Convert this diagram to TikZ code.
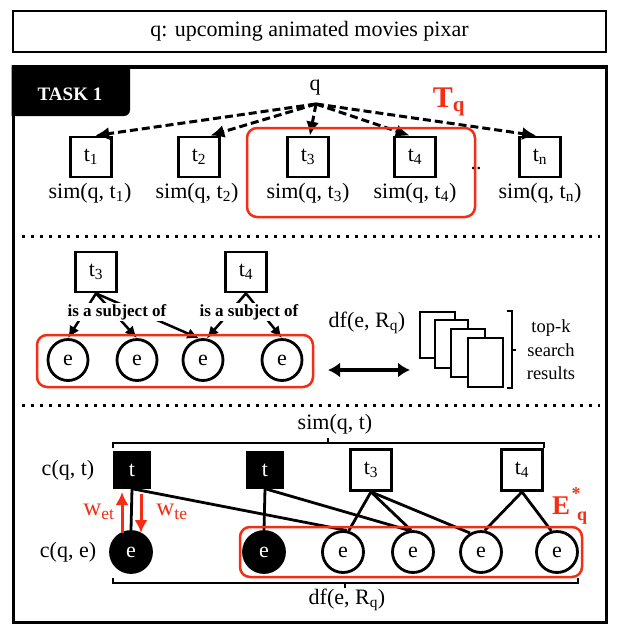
\documentclass[tikz,border=0pt]{standalone}
\usepackage{fontspec}
\setmainfont{Liberation Serif}
\usetikzlibrary{arrows.meta,shapes.geometric}
\definecolor{tred}{RGB}{245,45,20}
\begin{document}
\begin{tikzpicture}[x=1pt,y=-1pt,
  font=\fontsize{22}{26}\selectfont,
  sq/.style={draw,line width=2.8pt,minimum width=41pt,minimum height=40pt,inner sep=0pt},
  bsq/.style={draw,fill=black,text=white,minimum width=37pt,minimum height=37pt,inner sep=0pt},
  ent/.style={draw,ellipse,line width=2.8pt,minimum width=41pt,minimum height=41pt,inner sep=0pt},
  bent/.style={ent,fill=black,text=white},
  redbox/.style={draw=tred,line width=2.5pt,rounded corners=10pt},
  dasharr/.style={line width=3pt,dash pattern=on 8pt off 4pt,-{Latex[length=14pt,width=13pt]}},
  sarr/.style={line width=2.5pt,-{Latex[length=12pt,width=11pt]}},
  conn/.style={line width=2.8pt},
  dotline/.style={line width=3pt,dash pattern=on 3pt off 6pt},
  brk/.style={line width=2.5pt},
  redarr/.style={tred,line width=3pt,-{Latex[length=13pt,width=13pt]}},
  subj/.style={fill=white,inner sep=1pt,font=\bfseries\fontsize{17}{20}\selectfont},
  redbig/.style={text=tred,font=\bfseries\fontsize{27}{28}\selectfont,inner sep=0pt},
  redsm/.style={text=tred,font=\bfseries\fontsize{18}{20}\selectfont,inner sep=0pt},
  wlab/.style={text=tred,font=\fontsize{25}{26}\selectfont},
]
\useasboundingbox (0,0) rectangle (616,626);
% query box
\node[draw,line width=2.8pt,minimum width=593pt,minimum height=41pt] (qbox) at (309.5,31.5) {q: upcoming animated movies pixar};
% main frame
\draw[line width=3pt] (13,67) rectangle (606,622);
\fill (11.5,65.5) -- (130,65.5) [rounded corners=6pt] -- (130,116) [sharp corners] -- (11.5,116) -- cycle;
\node[text=white,font=\bfseries\fontsize{19}{20}\selectfont] (task) at (70,94) {TASK 1};
% ---- section 1
\node (q) at (315,88) {q};
\coordinate (qa) at (316,104);
\node[sq] (t1) at (91,157) {t\textsubscript{1}};
\node[sq] (t2) at (199,157) {t\textsubscript{2}};
\node[sq] (t3) at (308,157) {t\textsubscript{3}};
\node[sq] (t4) at (415,157) {t\textsubscript{4}};
\node[sq] (tn) at (540,157) {t\textsubscript{n}};
\node (s1) at (90,193) {sim(q, t\textsubscript{1})};
\node (s2) at (197,193) {sim(q, t\textsubscript{2})};
\node (s3) at (308,193) {sim(q, t\textsubscript{3})};
\node (s4) at (415,193) {sim(q, t\textsubscript{4})};
\node (sn) at (540,193) {sim(q, t\textsubscript{n})};
\node[anchor=base] (dots) at (476,169) {..};
\draw[dasharr] (qa) -- (t1.79);
\draw[dasharr] (qa) -- (t2.62);
\draw[dasharr] (qa) -- (t3.85);
\draw[dasharr] (qa) -- (t4.104);
\draw[dasharr] (qa) -- (tn.100);
\draw[redbox] (247,128) rectangle (475,217);
\node[text=tred,font=\bfseries\fontsize{30}{30}\selectfont] (Tq) at (449,102) {T\textsubscript{q}};
\draw[dotline] (22,236) -- (600,236);
% ---- section 2
\node[sq] (u3) at (96,272) {t\textsubscript{3}};
\node[sq] (u4) at (246,272) {t\textsubscript{4}};
\node[ent,minimum width=40pt,minimum height=41pt] (a1) at (68,360) {e};
\node[ent,minimum width=40pt,minimum height=41pt] (a2) at (137,360) {e};
\node[ent,minimum width=40pt,minimum height=41pt] (a3) at (203,360) {e};
\node[ent,minimum width=40pt,minimum height=41pt] (a4) at (282,360) {e};
\draw[sarr] (u3.south) -- (a1.north);
\draw[sarr] (u3.south) -- (a2.north);
\draw[sarr] (u3.south) -- (a3.100);
\draw[sarr] (u4.south) -- (a3.80);
\draw[sarr] (u4.south) -- (a4.north);
\node[subj] (l1) at (117,312) {is a subject of};
\node[subj] (l2) at (249,312) {is a subject of};
\draw[redbox] (37,335) rectangle (313,387);
\coordinate (dl) at (328,370);
\coordinate (dr) at (410,370);
\draw[line width=4pt,{Latex[length=12pt,width=15pt]}-{Latex[length=12pt,width=15pt]}] (dl) -- (dr);
\node (df1) at (367,323) {df(e, R\textsubscript{q})};
\filldraw[fill=white,line width=2.8pt] (420,312) rectangle (455,358);
\filldraw[fill=white,line width=2.8pt] (435,320) rectangle (468,368);
\filldraw[fill=white,line width=2.8pt] (451,329) rectangle (485,377);
\filldraw[fill=white,line width=2.8pt] (468,338) rectangle (503,387);
\draw[brk] (507,311) -- (512,311) -- (512,388) -- (507,388);
\draw[brk] (512,350) -- (516,350);
\node[align=center,font=\fontsize{18.5}{23.5}\selectfont] (topk) at (551,350) {top-k\\search\\results};
\draw[dotline] (22,405) -- (600,405);
% ---- section 3
\node (simt) at (335,424) {sim(q, t)};
\draw[brk] (113,448) -- (113,443) -- (544,443) -- (544,448);
\draw[brk] (328,443) -- (328,438);
\node[bsq] (b1) at (132,470) {t};
\node[bsq] (b2) at (265,470) {t};
\node[sq,minimum height=41pt] (v3) at (371,470) {t\textsubscript{3}};
\node[sq,minimum height=41pt] (v4) at (522,470) {t\textsubscript{4}};
\node (cqt) at (68,470) {c(q, t)};
\node (cqe) at (68,552) {c(q, e)};
\node[bent] (f1) at (131,552) {e};
\node[bent] (f2) at (264,552) {e};
\node[ent] (f3) at (343,552) {e};
\node[ent] (f4) at (413,552) {e};
\node[ent] (f5) at (481,552) {e};
\node[ent] (f6) at (557,552) {e};
\draw[conn] (b1.south) -- (f1.north);
\draw[conn] (b1.south) -- (f3.80);
\draw[conn] (b2.south) -- (f2.north);
\draw[conn] (b2.south) -- (f4.100);
\draw[conn] (v3.south) -- (f3.75);
\draw[conn] (v3.south) -- (f4.95);
\draw[conn] (v3.south) -- (f5.120);
\draw[conn] (v4.south) -- (f5.80);
\draw[conn] (v4.south) -- (f6.105);
\draw[redbox] (240,527) rectangle (582,577);
\draw[brk] (113,578) -- (113,583) -- (578,583) -- (578,578);
\draw[brk] (345,583) -- (345,588);
\node (df2) at (347,600) {df(e, R\textsubscript{q})};
\node[redbig] (E) at (561,506) {E};
\node[redsm] (Estar) at (576,494) {*};
\node[redsm] (Eq) at (582,518) {q};
\coordinate (ua) at (122,533);
\coordinate (ub) at (122,492);
\coordinate (da) at (141,494);
\coordinate (db) at (141,533);
\draw[redarr] (ua) -- (ub);
\draw[redarr] (da) -- (db);
\node[wlab] (wet) at (99,512) {w\textsubscript{et}};
\node[wlab] (wte) at (172,512) {w\textsubscript{te}};
\end{tikzpicture}
\end{document}
